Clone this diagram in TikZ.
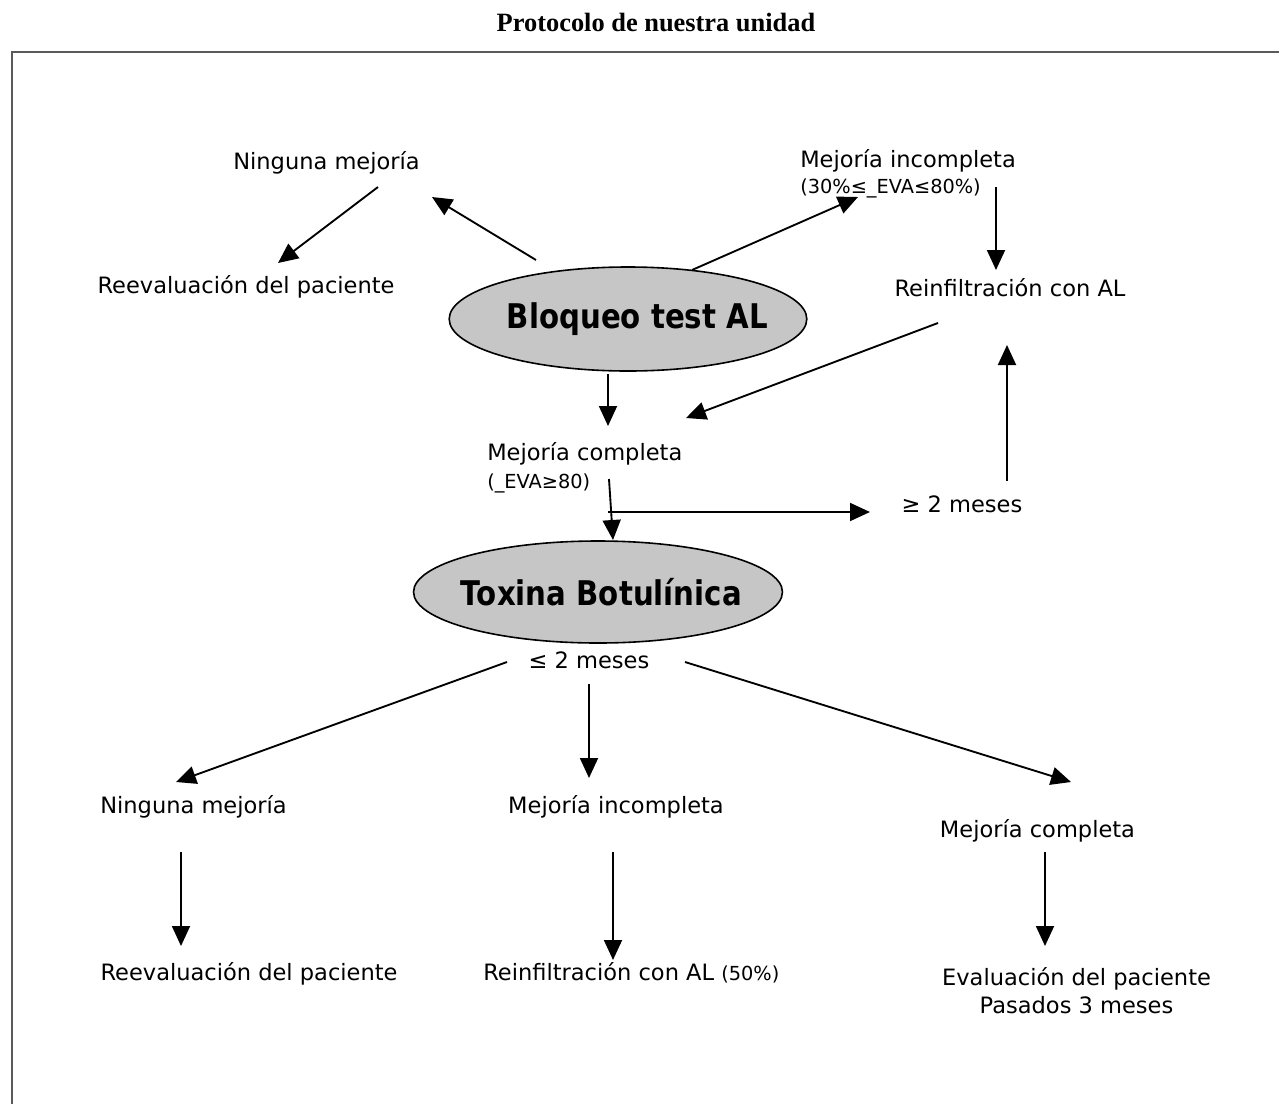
\documentclass[tikz,border=0pt]{standalone}
\usepackage{fontspec}
\setmainfont{DejaVu Sans}
\newfontfamily\titlefont{Liberation Serif}
\newfontfamily\ellfont[FakeStretch=0.86]{DejaVu Sans}
\usetikzlibrary{arrows.meta,shapes.geometric}
\definecolor{ellgray}{RGB}{198,198,198}
\definecolor{framegray}{RGB}{90,90,90}

\begin{document}
\begin{tikzpicture}[x=0.75pt,y=-0.75pt,
  txt/.style={anchor=base,inner sep=0pt,font=\fontsize{16.9}{20}\selectfont},
  sml/.style={anchor=base west,inner sep=0pt,font=\fontsize{14.5}{17}\selectfont},
  ell/.style={ellipse,draw,line width=1.2pt,fill=ellgray,minimum width=266pt,
    minimum height=78pt,inner xsep=-10pt,inner ysep=0pt,font=\ellfont\bfseries\fontsize{25.5}{30}\selectfont},
  arr/.style={line width=1.4pt,-{Triangle[length=15pt,width=13.5pt]}}]
  \useasboundingbox (0,0) rectangle (1279,1104);

  % marco y titulo
  \node[anchor=base,inner sep=0pt,font=\titlefont\bfseries\fontsize{19.8}{24}\selectfont] (tit) at (656,31) {Protocolo de nuestra unidad};
  \draw[framegray,line width=1.2pt] (1279,52) -- (12,52) -- (12,1104);

  % elipses
  \node[ell] (blo) at (628,319) {\hspace*{14pt}Bloqueo test AL};
  \node[ell,minimum height=76.5pt] (tox) at (598,592) {\hspace*{5pt}Toxina Botulínica};

  % parte superior
  \node[txt] (ning1) at (326.5,169) {Ninguna mejoría};
  \node[txt] (reev1) at (246,293) {Reevaluación del paciente};
  \node[txt,anchor=base west] (minc1) at (800,167) {Mejoría incompleta};
  \node[sml] (eva1) at (800,193) {(30\%≤\_EVA≤80\%)};
  \node[txt] (reinf1) at (1010,296) {Reinfiltración con AL};
  \node[txt,anchor=base west] (mc) at (487,460) {Mejoría completa};
  \node[sml] (eva2) at (487,488) {(\_EVA≥80)};
  \node[txt] (mas2) at (962,512) {≥ 2 meses};

  % parte inferior
  \node[txt] (menos2) at (589,668) {≤ 2 meses};
  \node[txt] (ning2) at (193.5,813) {Ninguna mejoría};
  \node[txt] (minc2) at (616,813) {Mejoría incompleta};
  \node[txt] (mc2) at (1037.5,837) {Mejoría completa};
  \node[txt] (reev2) at (249,980) {Reevaluación del paciente};
  \node[txt,anchor=base west] (reinf2) at (483,980) {Reinfiltración con AL {\fontsize{14.5}{17}\selectfont(50\%)}};
  \node[txt] (eval) at (1076.5,985) {Evaluación del paciente};
  \node[txt] (pas3) at (1076.5,1013) {Pasados 3 meses};

  % flechas
  \draw[arr] ([shift={(-92,-59)}]blo.center) -- ([shift={(105.5,28)}]ning1.base);
  \draw[arr] ([shift={(51.5,18)}]ning1.base) -- ([shift={(32,-30)}]reev1.base);
  \draw[arr] ([shift={(64,-49)}]blo.center) -- ([shift={(58,30)}]minc1.base west);
  \draw[arr] ([shift={(196,20)}]minc1.base west) -- ([shift={(-14,-26)}]reinf1.base);
  \draw[arr] ([shift={(-72,27)}]reinf1.base) -- ([shift={(199,-42)}]mc.base west);
  \draw[arr] ([shift={(-20,55)}]blo.center) -- ([shift={(121,-34)}]mc.base west);
  \draw[arr] ([shift={(45,-31)}]mas2.base) -- ([shift={(-3,49)}]reinf1.base);
  \draw[arr] ([shift={(121,52)}]mc.base west) -- ([shift={(-92,0)}]mas2.base);
  \draw[arr] ([shift={(122,19)}]mc.base west) -- ([shift={(15,-52)}]tox.center);
  \draw[arr] ([shift={(-82,-6)}]menos2.base) -- ([shift={(-17.5,-31)}]ning2.base);
  \draw[arr] ([shift={(0,16)}]menos2.base) -- ([shift={(-27,-35)}]minc2.base);
  \draw[arr] ([shift={(96,-6)}]menos2.base) -- ([shift={(33.5,-55)}]mc2.base);
  \draw[arr] ([shift={(-12.5,39)}]ning2.base) -- ([shift={(-68,-34)}]reev2.base);
  \draw[arr] ([shift={(-3,39)}]minc2.base) -- ([shift={(130,-20)}]reinf2.base west);
  \draw[arr] ([shift={(7.5,15)}]mc2.base) -- ([shift={(-31.5,-39)}]eval.base);
\end{tikzpicture}
\end{document}
